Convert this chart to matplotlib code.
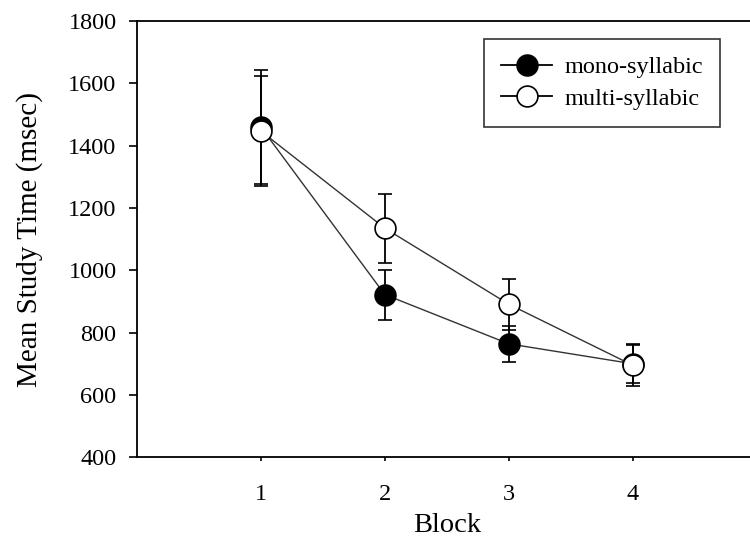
import matplotlib
matplotlib.use("Agg")
import matplotlib.pyplot as plt
from matplotlib.lines import Line2D

blocks = [1, 2, 3, 4]
mono_mean = [1460, 922, 764, 700]
mono_err = [183, 80, 57, 62]
multi_mean = [1447, 1135, 891, 695]
multi_err = [178, 111, 82, 66]
yticks = [400, 600, 800, 1000, 1200, 1400, 1600, 1800]
xticks = [1, 2, 3, 4]
labels = ['mono-syllabic', 'multi-syllabic']

plt.rcParams['font.family'] = ['Liberation Serif', 'DejaVu Serif']

fig = plt.figure(figsize=(7.5, 5.42), dpi=100)
ax = fig.add_axes([0.1823, 0.1563, 0.827, 0.805])

line_kw = dict(color='#333333', linewidth=1.0, capsize=5, capthick=1.3,
               elinewidth=1.3, ecolor='black', markersize=15,
               markeredgecolor='black', markeredgewidth=1.2)
ax.errorbar(blocks, mono_mean, yerr=mono_err, marker='o',
            markerfacecolor='black', zorder=3, **line_kw)
ax.errorbar(blocks, multi_mean, yerr=multi_err, marker='o',
            markerfacecolor='white', zorder=4, **line_kw)

ax.set_xlim(0, 5)
ax.set_ylim(400, 1800)
ax.set_xticks(xticks)
ax.set_yticks(yticks)
ax.tick_params(axis='y', direction='out', length=6, width=1.2, labelsize=17.5, pad=8.5)
ax.tick_params(axis='x', direction='out', length=3, width=1.2, labelsize=17.5, pad=16)
ax.spines['right'].set_visible(False)
for s in ['left', 'bottom', 'top']:
    ax.spines[s].set_linewidth(1.3)

ax.set_xlabel('Block', fontsize=20.5, labelpad=6)
ax.set_ylabel('Mean Study Time (msec)', fontsize=21, labelpad=18)

handles = [
    Line2D([], [], color='black', linewidth=1.3, marker='o', markersize=15,
           markerfacecolor='black', markeredgecolor='black', markeredgewidth=1.2),
    Line2D([], [], color='black', linewidth=1.3, marker='o', markersize=15,
           markerfacecolor='white', markeredgecolor='black', markeredgewidth=1.2),
]
leg = ax.legend(handles, labels, loc='upper right',
                bbox_to_anchor=(720 / 750, 1 - 39 / 542),
                bbox_transform=fig.transFigure, fontsize=17.5, frameon=True,
                fancybox=False, edgecolor='black', handlelength=2.1,
                borderpad=0.7, labelspacing=0.4, handletextpad=0.5,
                borderaxespad=0)
leg.get_frame().set_linewidth(1.2)

fig.savefig('out.png', dpi=100)
